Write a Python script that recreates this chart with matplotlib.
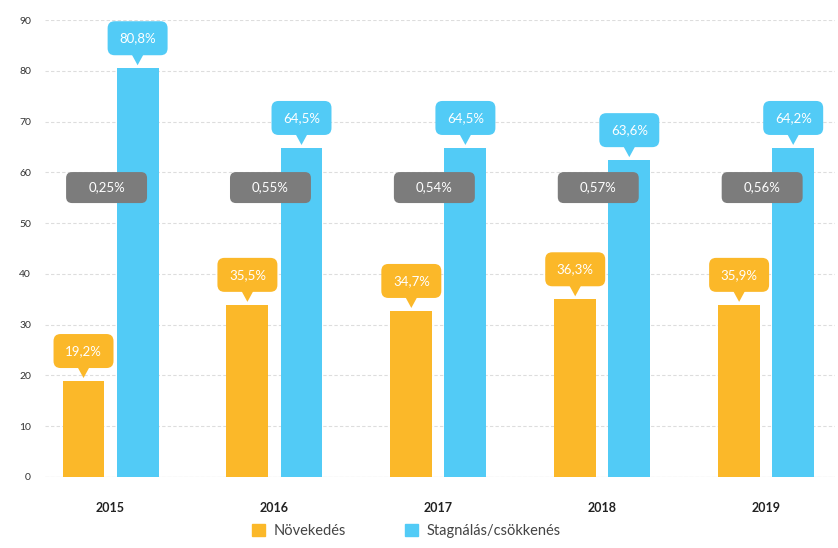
import matplotlib
matplotlib.use("Agg")
import matplotlib.pyplot as plt
from matplotlib.patches import FancyBboxPatch, Patch
import numpy as np

plt.rcParams['font.family'] = ['Lato', 'DejaVu Sans']

# adatok
evek = ['2015', '2016', '2017', '2018', '2019']
novekedes = [18.9, 33.9, 32.7, 35.0, 33.9]          # oszlopmagasság a képről
stagnalas = [80.5, 64.8, 64.8, 62.4, 64.8]
novekedes_cimke = ['19,2%', '35,5%', '34,7%', '36,3%', '35,9%']
stagnalas_cimke = ['80,8%', '64,5%', '64,5%', '63,6%', '64,2%']
kozep_cimke = ['0,25%', '0,55%', '0,54%', '0,57%', '0,56%']

narancs = '#FBB829'
kek = '#52CBF6'
szurke = '#7C7C7C'

fig = plt.figure(figsize=(8.38, 5.48), dpi=100)
ax = fig.add_axes([45/838, 71/548, 790/838, 457/548])

x = np.arange(len(evek))
w = 0.256
off = 0.165

ax.bar(x - off, novekedes, w, color=narancs, zorder=3)
ax.bar(x + off, stagnalas, w, color=kek, zorder=3)

ax.set_xlim(-0.40, 4.42)
ax.set_ylim(0, 90)

# px -> adategység
px_x = 1 / 164.0
px_y = 90 / 457.0
aspect = px_y / px_x

def buborek(cx, top, szoveg, szin):
    bw = 60 * px_x
    bh = 34 * px_y
    alja = top + 13 * px_y
    box = FancyBboxPatch((cx - bw / 2, alja), bw, bh,
                         boxstyle='round,pad=0,rounding_size=%f' % (7 * px_x),
                         mutation_aspect=aspect, fc=szin, ec='none', zorder=4)
    ax.add_patch(box)
    tri = plt.Polygon([[cx - 6 * px_x, alja + 1 * px_y],
                       [cx + 6 * px_x, alja + 1 * px_y],
                       [cx, top + 3 * px_y]], closed=True, fc=szin, ec='none', zorder=4)
    ax.add_patch(tri)
    ax.text(cx, alja + bh / 2, szoveg, ha='center', va='center',
            color='white', fontsize=9.5, zorder=5)

for i in range(len(evek)):
    buborek(x[i] - off, novekedes[i], novekedes_cimke[i], narancs)
    buborek(x[i] + off, stagnalas[i], stagnalas_cimke[i], kek)
    gw = 81 * px_x
    gh = 31 * px_y
    gy = 57
    box = FancyBboxPatch((x[i] - gw / 2 - 4 * px_x, gy - gh / 2), gw, gh,
                         boxstyle='round,pad=0,rounding_size=%f' % (6 * px_x),
                         mutation_aspect=aspect, fc=szurke, ec='none', zorder=4)
    ax.add_patch(box)
    ax.text(x[i] - 4 * px_x, gy, kozep_cimke[i], ha='center', va='center',
            color='white', fontsize=9.5, zorder=5)

ax.set_yticks(range(0, 91, 10))
ax.yaxis.grid(True, color='#DDDDDD', linestyle=(0, (3, 2)), linewidth=0.8, zorder=0)
ax.set_xticks(x)
ax.set_xticklabels(evek, fontweight='bold', fontsize=9, color='#222222')
ax.tick_params(axis='both', length=0)
ax.tick_params(axis='x', pad=18)
ax.tick_params(axis='y', pad=10, labelsize=7.5, labelcolor='#333333')
for s in ax.spines.values():
    s.set_visible(False)
ax.axhline(0, color='#CCCCCC', linewidth=0.8, zorder=2)

kezelok = [Patch(color=narancs, label='Növekedés'),
           Patch(color=kek, label='Stagnálás/csökkenés')]
fig.legend(handles=kezelok, loc='lower center', bbox_to_anchor=(0.485, -0.005),
           ncol=2, frameon=False, fontsize=10.5, handlelength=0.9, handleheight=0.9,
           columnspacing=4.0, handletextpad=0.6, labelcolor='#444444')

fig.savefig('out.png', dpi=100)
